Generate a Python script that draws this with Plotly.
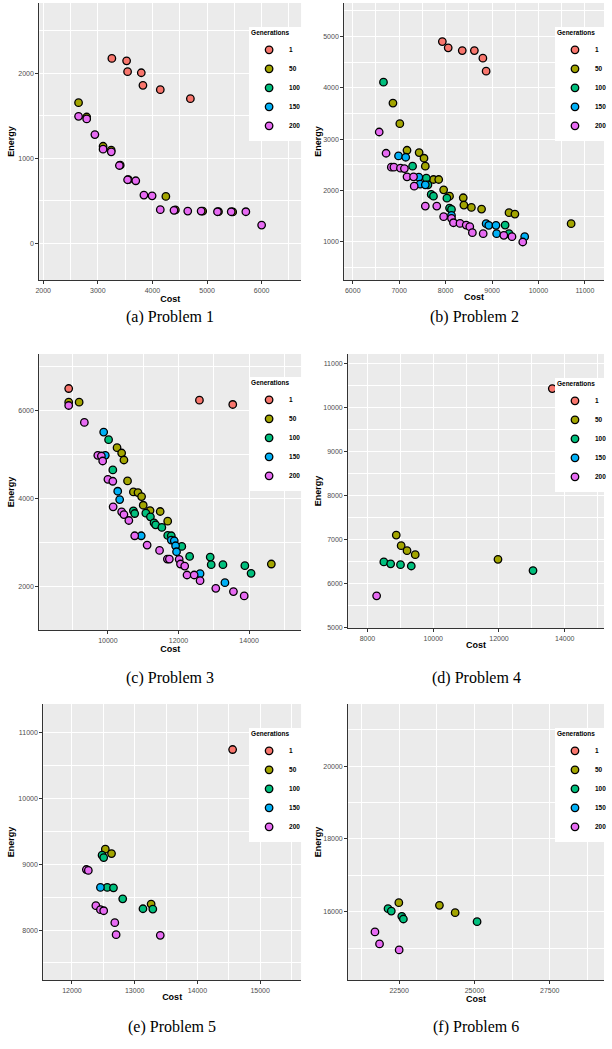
import plotly.graph_objects as go

W, H = 612, 1049
GENS = ["1", "50", "100", "150", "200"]
COLORS = ["#F8766D", "#A3A500", "#00BF7D", "#00B0F6", "#E76BF3"]

# ---------------- Problem 1 ----------------
p1_g1_cost = [3257, 3527, 3545, 3796, 3826, 4144, 4695]
p1_g1_energy = [2172, 2144, 2016, 2004, 1856, 1805, 1700]
p1_g50_cost = [2647, 2796, 3096, 3245, 3410, 3560, 4246, 4420, 4920, 5210, 5470]
p1_g50_energy = [1653, 1485, 1142, 1096, 920, 750, 554, 395, 380, 375, 372]
p1_g100_cost = []
p1_g100_energy = []
p1_g150_cost = []
p1_g150_energy = []
p1_g200_cost = [2647, 2796, 2946, 3096, 3246, 3395, 3545, 3695, 3844, 3994, 4144, 4395,
                4647, 4892, 5191, 5443, 5711, 6000]
p1_g200_energy = [1493, 1462, 1279, 1107, 1076, 916, 749, 737, 569, 561, 398, 390,
                  382, 382, 374, 374, 374, 218]

# ---------------- Problem 2 ----------------
p2_g1_cost = [7930, 8056, 8359, 8620, 8803, 8873]
p2_g1_energy = [4903, 4780, 4728, 4728, 4579, 4327]
p2_g50_cost = [6866, 7014, 7169, 7430, 7535, 7563, 7739, 7852, 7958, 8085, 8380, 8394,
               8556, 8775, 9366, 9493, 10704]
p2_g50_energy = [3706, 3304, 2786, 2741, 2631, 2476, 2217, 2217, 2016, 1893, 1861, 1718,
                 1673, 1641, 1570, 1544, 1356]
p2_g100_cost = [6662, 7289, 7585, 7620, 7690, 7739, 8028, 8085, 8127, 9282, 9366]
p2_g100_energy = [4113, 2476, 2243, 2113, 1926, 1893, 1854, 1660, 1634, 1330, 1162]
p2_g150_cost = [6986, 7141, 7423, 7451, 7563, 8127, 8873, 8930, 9085, 9099, 9704]
p2_g150_energy = [2676, 2650, 2262, 2126, 2113, 1518, 1356, 1324, 1324, 1162, 1104]
p2_g200_cost = [6570, 6718, 6831, 6887, 7028, 7113, 7169, 7310, 7324, 7563, 7810, 7958,
                8127, 8169, 8310, 8444, 8521, 8577, 8810, 9254, 9430, 9662]
p2_g200_energy = [3142, 2728, 2456, 2456, 2437, 2430, 2269, 2269, 2087, 1699, 1699, 1492,
                  1460, 1375, 1362, 1330, 1298, 1181, 1162, 1129, 1104, 1000]

# ---------------- Problem 3 ----------------
p3_g1_cost = [8889, 12593, 13537]
p3_g1_energy = [6508, 6242, 6144]
p3_g50_cost = [8889, 9185, 10259, 10389, 10454, 10556, 10722, 10852, 10954, 11000, 11194,
               11481, 11694, 14630]
p3_g50_energy = [6197, 6197, 5159, 5038, 4879, 4402, 4152, 4136, 4045, 3848, 3727,
                 3705, 3485, 2508]
p3_g100_cost = [10019, 10139, 10722, 10759, 11074, 11204, 11306, 11352, 11528, 11694,
                11796, 12093, 12315, 12898, 12926, 13259, 13880, 14056]
p3_g100_energy = [5341, 4652, 3720, 3659, 3667, 3583, 3447, 3402, 3341, 3159,
                  3152, 2909, 2682, 2667, 2492, 2492, 2470, 2295]
p3_g150_cost = [9880, 9926, 10278, 10333, 10944, 11796, 11880, 11917, 11944, 12611, 13315]
p3_g150_energy = [5515, 4985, 4167, 3977, 3152, 3053, 3038, 2924, 2788, 2288, 2083]
p3_g200_cost = [8889, 9333, 9713, 9815, 9852, 10000, 10139, 10148, 10389, 10454, 10593,
                10759, 11111, 11463, 11685, 11741, 12019, 12056, 12176, 12241, 12444,
                12611, 13056, 13556, 13861]
p3_g200_energy = [6121, 5735, 4985, 4970, 4856, 4439, 4394, 3811, 3697, 3636, 3500,
                  3152, 2939, 2818, 2621, 2621, 2614, 2508, 2462, 2258, 2258,
                  2129, 1955, 1879, 1780]

# ---------------- Problem 4 ----------------
p4_g1_cost = [13622]
p4_g1_energy = [10440]
p4_g50_cost = [8876, 9025, 9204, 9453, 11970]
p4_g50_energy = [7104, 6862, 6749, 6658, 6552]
p4_g100_cost = [8498, 8706, 9005, 9333, 13035]
p4_g100_energy = [6492, 6449, 6430, 6400, 6295]
p4_g150_cost = []
p4_g150_energy = []
p4_g200_cost = [8279]
p4_g200_energy = [5720]

# ---------------- Problem 5 ----------------
p5_g1_cost = [14561, 14932]
p5_g1_energy = [10747, 10732]
p5_g50_cost = [12532, 12631, 13262]
p5_g50_energy = [9230, 9164, 8395]
p5_g100_cost = [12480, 12506, 12563, 12662, 12809, 13132, 13289]
p5_g100_energy = [9139, 9103, 8648, 8643, 8475, 8324, 8319]
p5_g150_cost = [12454]
p5_g150_energy = [8648]
p5_g200_cost = [12230, 12261, 12381, 12454, 12506, 12683, 12704, 13408]
p5_g200_energy = [8921, 8907, 8371, 8310, 8294, 8112, 7930, 7920]

# ---------------- Problem 6 ----------------
p6_g1_cost = []
p6_g1_energy = []
p6_g50_cost = [22489, 23837, 24359]
p6_g50_energy = [16247, 16174, 15973]
p6_g100_cost = [22130, 22239, 22587, 22641, 25087]
p6_g100_energy = [16082, 16018, 15872, 15799, 15726]
p6_g150_cost = []
p6_g150_energy = []
p6_g200_cost = [21696, 21848, 22500]
p6_g200_energy = [15443, 15114, 14950]

captions = ["(a) Problem 1", "(b) Problem 2", "(c) Problem 3",
            "(d) Problem 4", "(e) Problem 5", "(f) Problem 6"]

panels = [
    [(p1_g1_cost, p1_g1_energy), (p1_g50_cost, p1_g50_energy), (p1_g100_cost, p1_g100_energy),
     (p1_g150_cost, p1_g150_energy), (p1_g200_cost, p1_g200_energy)],
    [(p2_g1_cost, p2_g1_energy), (p2_g50_cost, p2_g50_energy), (p2_g100_cost, p2_g100_energy),
     (p2_g150_cost, p2_g150_energy), (p2_g200_cost, p2_g200_energy)],
    [(p3_g1_cost, p3_g1_energy), (p3_g50_cost, p3_g50_energy), (p3_g100_cost, p3_g100_energy),
     (p3_g150_cost, p3_g150_energy), (p3_g200_cost, p3_g200_energy)],
    [(p4_g1_cost, p4_g1_energy), (p4_g50_cost, p4_g50_energy), (p4_g100_cost, p4_g100_energy),
     (p4_g150_cost, p4_g150_energy), (p4_g200_cost, p4_g200_energy)],
    [(p5_g1_cost, p5_g1_energy), (p5_g50_cost, p5_g50_energy), (p5_g100_cost, p5_g100_energy),
     (p5_g150_cost, p5_g150_energy), (p5_g200_cost, p5_g200_energy)],
    [(p6_g1_cost, p6_g1_energy), (p6_g50_cost, p6_g50_energy), (p6_g100_cost, p6_g100_energy),
     (p6_g150_cost, p6_g150_energy), (p6_g200_cost, p6_g200_energy)],
]

# layout in pixels: (left, right, top, bottom)
boxes = [(36, 303, 3, 281), (347, 612, 3, 281),
         (36, 303, 355, 632), (351, 612, 355, 630),
         (40, 303, 706, 983), (351, 612, 706, 983)]
xranges = [(1928, 6722), (5816, 11412), (8056, 15472), (7412, 15194), (11542, 15652), (20805, 29302)]
yranges = [(-429, 2822), (256, 5654), (1000, 7295), (4984, 11227), (7237, 11440), (14118, 21707)]
xdt = [1000, 1000, 2000, 2000, 1000, 2500]
ydt = [1000, 1000, 2000, 1000, 1000, 2000]
ytitle_standoff = [2, 0, 2, 0, 2, 0]
legend_pos = [(250, 27), (562, 27), (250, 378), (562, 379), (250, 730), (562, 730)]
caption_y = [318, 318, 680, 680, 1030, 1030]

fig = go.Figure()
layout = dict(width=W, height=H, margin=dict(l=0, r=0, t=0, b=0),
              paper_bgcolor="white", plot_bgcolor="#EBEBEB",
              font=dict(family="Liberation Sans, Arial, sans-serif", color="#4D4D4D"),
              annotations=[])

for i, (pan, box) in enumerate(zip(panels, boxes)):
    n = i + 1
    sfx = "" if n == 1 else str(n)
    lname = "legend" if n == 1 else f"legend{n}"
    for g, (cx, cy) in enumerate(pan):
        # empty generations still need a legend entry, so give them a single missing point
        fig.add_trace(go.Scatter(
            x=cx if cx else [None], y=cy if cy else [None], mode="markers", name=GENS[g],
            xaxis="x" + sfx, yaxis="y" + sfx, legend=lname,
            marker=dict(size=7.5, color=COLORS[g], line=dict(color="black", width=1.3)),
        ))
    l, r, t, b = box
    axcommon = dict(showline=True, linecolor="#333333", linewidth=1,
                    ticks="outside", ticklen=3, tickcolor="#333333", tickwidth=0.8,
                    gridcolor="white", gridwidth=1, zeroline=False,
                    tickformat="d",
                    tickfont=dict(size=7, color="#4D4D4D"))
    layout["xaxis" + sfx] = dict(
        axcommon, domain=[l / W, r / W], anchor="y" + sfx,
        range=list(xranges[i]), dtick=xdt[i], tick0=0,
        minor=dict(showgrid=True, gridcolor="white", gridwidth=0.5, dtick=xdt[i] / 2, tick0=0),
        title=dict(text="<b>Cost</b>", font=dict(size=9, color="black"), standoff=1),
    )
    layout["yaxis" + sfx] = dict(
        axcommon, domain=[1 - b / H, 1 - t / H], anchor="x" + sfx,
        range=list(yranges[i]), dtick=ydt[i], tick0=0,
        minor=dict(showgrid=True, gridcolor="white", gridwidth=0.5, dtick=ydt[i] / 2, tick0=0),
        title=dict(text="<b>Energy</b>", font=dict(size=9, color="black"), standoff=ytitle_standoff[i]),
    )
    lx, ly = legend_pos[i]
    layout[lname] = dict(
        x=lx / W, y=1 - ly / H, xanchor="left", yanchor="top",
        bgcolor="white", borderwidth=0,
        title=dict(text="<b>Generations</b>", font=dict(size=6.5, color="black"), side="top"),
        font=dict(size=6.5, color="black", weight=700),
        itemsizing="trace", tracegroupgap=0, itemwidth=30,
    )
    layout["annotations"].append(dict(
        text=captions[i], x=(l + r) / 2 / W, y=1 - caption_y[i] / H,
        xref="paper", yref="paper", showarrow=False,
        font=dict(family="Liberation Serif, Times New Roman, serif", size=16, color="black"),
        xanchor="center", yanchor="middle",
    ))

fig.update_layout(**layout)
# remove the browser's default page margin so the 612x1049 figure fills the window exactly
fig.write_html("out.html", config={"displayModeBar": False},
               post_script="document.body.style.margin='0';document.body.style.overflow='hidden';")
